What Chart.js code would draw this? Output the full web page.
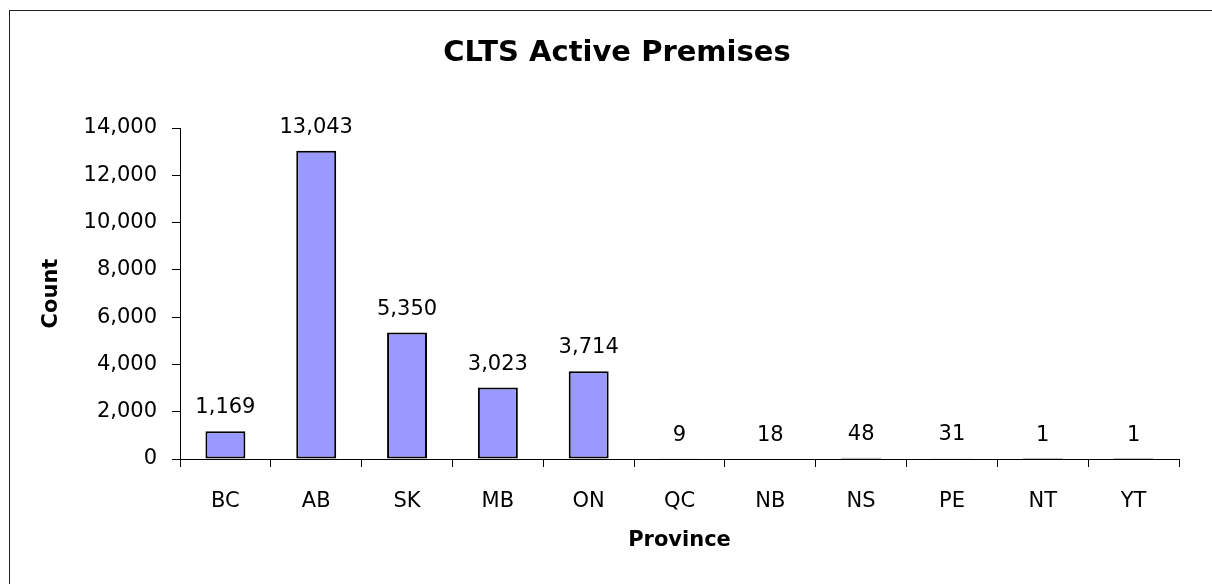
<!DOCTYPE html>
<html>
<head>
<meta charset="utf-8">
<title>CLTS Active Premises</title>
<script src="https://cdn.jsdelivr.net/npm/chart.js@4/dist/chart.umd.min.js"></script>
<style>
    html, body { margin: 0; padding: 0; background: #fff; }
    #wrap { width: 1212px; height: 584px; }
</style>
</head>
<body>
<div id="wrap"><canvas id="premises-chart" width="1212" height="584"></canvas></div>
<script>
/* CLTS active premises by province */

const provinces = ['BC', 'AB', 'SK', 'MB', 'ON', 'QC', 'NB', 'NS', 'PE', 'NT', 'YT'];
const premiseCounts = [1169, 13043, 5350, 3023, 3714, 9, 18, 48, 31, 1, 1];
const countTicks = [0, 2000, 4000, 6000, 8000, 10000, 12000, 14000];

const chartTitle = 'CLTS Active Premises';
const FONT = "'DejaVu Sans', Verdana, sans-serif";

const fmt = v => Number(v).toLocaleString('en-US');

// outer frame + centered title (Excel style)
const framePlugin = {
    id: 'frame',
    beforeDraw(chart) {
        const ctx = chart.ctx;
        ctx.save();
        ctx.fillStyle = '#fff';
        ctx.fillRect(0, 0, chart.width, chart.height);
        ctx.strokeStyle = '#222';
        ctx.lineWidth = 1;
        ctx.strokeRect(9.5, 10.5, chart.width + 20, chart.height + 20);
        ctx.fillStyle = '#000';
        ctx.font = 'bold 29px ' + FONT;
        ctx.textAlign = 'center';
        ctx.textBaseline = 'middle';
        ctx.fillText(chartTitle, 617, 53);
        ctx.restore();
    }
};

// value labels above each bar
const valueLabelPlugin = {
    id: 'valueLabels',
    afterDatasetsDraw(chart) {
        const ctx = chart.ctx;
        const meta = chart.getDatasetMeta(0);
        ctx.save();
        ctx.fillStyle = '#000';
        ctx.font = '21px ' + FONT;
        ctx.textAlign = 'center';
        ctx.textBaseline = 'alphabetic';
        meta.data.forEach((bar, i) => {
            ctx.fillText(fmt(premiseCounts[i]), bar.x, bar.y - 18);
        });
        ctx.restore();
    }
};

const ctx = document.getElementById('premises-chart');
new Chart(ctx.getContext('2d'), {
    type: 'bar',
    data: {
        labels: provinces,
        datasets: [{
            label: 'Count',
            data: premiseCounts,
            backgroundColor: '#9999ff',
            borderColor: '#000',
            borderWidth: 2,
            borderSkipped: false,
            categoryPercentage: 1.0,
            barPercentage: 0.44,
        }]
    },
    options: {
        responsive: false,
        animation: false,
        layout: { padding: { top: 128, right: 33, bottom: 0, left: 0 } },
        scales: {
            x: {
                type: 'category',
                offset: true,
                afterFit: scale => { scale.height = 125; },
                grid: {
                    offset: true,
                    drawOnChartArea: false,
                    drawTicks: true,
                    tickLength: 8,
                    tickColor: '#000',
                    tickWidth: 1,
                },
                border: { display: true, color: '#000', width: 1 },
                ticks: {
                    color: '#000',
                    font: { family: FONT, size: 21 },
                    padding: 22,
                    maxRotation: 0,
                    autoSkip: false,
                },
                title: {
                    display: true,
                    text: 'Province',
                    color: '#000',
                    font: { family: FONT, size: 21, weight: 'bold' },
                    padding: { top: 0, bottom: 31 },
                }
            },
            y: {
                min: 0,
                max: 14000,
                afterFit: scale => { scale.width = 180; },
                afterBuildTicks: scale => { scale.ticks = countTicks.map(v => ({ value: v })); },
                grid: {
                    drawOnChartArea: false,
                    drawTicks: true,
                    tickLength: 8,
                    tickColor: '#000',
                    tickWidth: 1,
                },
                border: { display: true, color: '#000', width: 1 },
                ticks: {
                    color: '#000',
                    font: { family: FONT, size: 21 },
                    padding: 15,
                    callback: v => fmt(v),
                },
                title: {
                    display: true,
                    text: 'Count',
                    color: '#000',
                    font: { family: FONT, size: 21, weight: 'bold' },
                    padding: { top: 39, bottom: 0 },
                }
            }
        },
        plugins: {
            legend: { display: false },
            tooltip: { enabled: false },
            title: { display: false },
        }
    },
    plugins: [framePlugin, valueLabelPlugin]
});
</script>
</body>
</html>
